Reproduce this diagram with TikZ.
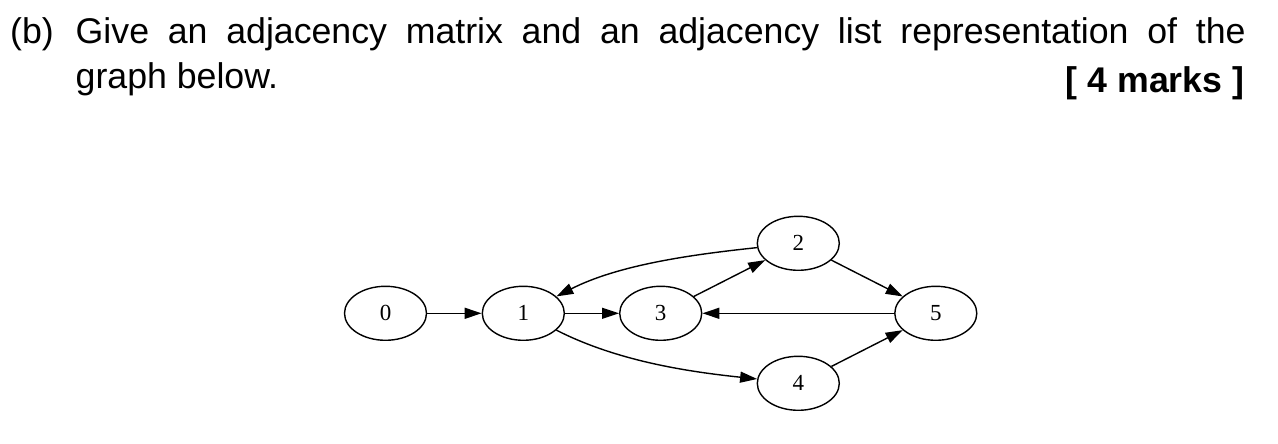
\documentclass[tikz,border=0pt]{standalone}
\usepackage{fontspec}
\setmainfont{Liberation Sans}
\newfontfamily\gvfont{Liberation Serif}
\usetikzlibrary{arrows.meta,shapes.geometric}
\begin{document}
\begin{tikzpicture}[x=1pt,y=1pt,
  vert/.style={ellipse,draw,line width=1.4pt,minimum width=82pt,minimum height=54pt,inner sep=0pt,font=\gvfont\fontsize{23}{23}\selectfont},
  edge/.style={line width=1.4pt,-{Triangle[length=17pt,width=11pt]}},
  qtext/.style={inner sep=0pt,font=\fontsize{35.7}{42}\selectfont}]
\fill[white] (0,0) rectangle (1278,444);
\useasboundingbox (0,0) rectangle (1278,444);
% text
\node[qtext,anchor=base west] (lbl) at (10,400.5) {(b)};
\node[qtext,anchor=base west] (l1) at (75.5,400.5) {\makebox[1170pt][s]{Give an adjacency matrix and an adjacency list representation of the}};
\node[qtext,anchor=base west] (l2) at (75.5,355) {graph below.};
\node[qtext,anchor=base east,font=\fontsize{35.7}{42}\selectfont\bfseries] (mk) at (1244.5,351.7) {[ 4 marks ]};
% graph
\node[vert] (n0) at (385.5,130.7) {0};
\node[vert] (n1) at (523.3,130.7) {1};
\node[vert] (n3) at (660.7,130.7) {3};
\node[vert] (n2) at (798.3,200.7) {2};
\node[vert] (n5) at (935.8,130.7) {5};
\node[vert] (n4) at (798.3,60.7) {4};
\draw[edge] (n0) -- (n1);
\draw[edge] (n1) -- (n3);
\draw[edge] (n5) -- (n3);
\draw[edge] (n3) -- (n2);
\draw[edge] (n2) -- (n5);
\draw[edge] (n4) -- (n5);
\draw[edge] (n2) to[out=186,in=27,looseness=0.85] (n1);
\draw[edge] (n1) to[out=-27,in=174,looseness=0.85] (n4);
\end{tikzpicture}
\end{document}
